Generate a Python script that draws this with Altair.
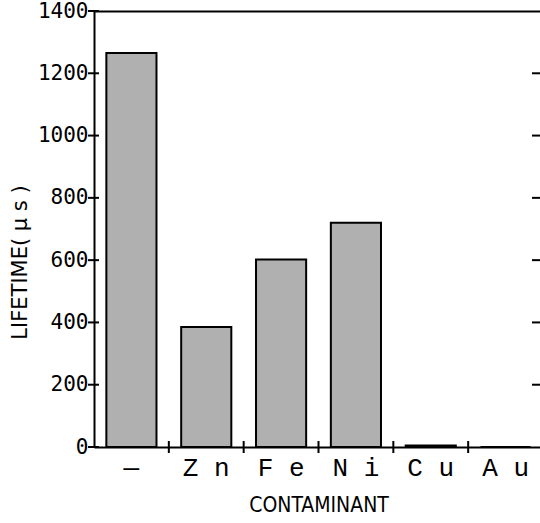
import altair as alt
import pandas as pd

# Carrier lifetime for each contaminant
contaminants = ["—", "Zn", "Fe", "Ni", "Cu", "Au"]
lifetimes_us = [1265, 385, 602, 720, 5, 0]

y_ticks = [0, 200, 400, 600, 800, 1000, 1200, 1400]
right_ticks = [200, 400, 600, 800, 1000, 1200]

df = pd.DataFrame({"contaminant": contaminants, "lifetime": lifetimes_us})
df_y = pd.DataFrame({"tick": y_ticks})
df_r = pd.DataFrame({"tick": right_ticks})
df_x = pd.DataFrame({"contaminant": contaminants[1:]})

W, H = 449, 436
x_scale = alt.Scale(domain=contaminants, paddingInner=0, paddingOuter=0)
y_scale = alt.Scale(domain=[0, 1400], nice=False, zero=True)

# Bars with the main axes: domain lines, labels and titles
bars = alt.Chart(df).mark_bar(
    fill="#b0b0b0", stroke="black", strokeWidth=2,
    width=alt.RelativeBandSize(0.67),
).encode(
    x=alt.X(
        "contaminant:N", sort=contaminants, scale=x_scale,
        axis=alt.Axis(
            orient="bottom", title="CONTAMINANT", ticks=False, domain=True,
            domainColor="black", domainWidth=2, labelAngle=0,
            labelFont="Liberation Mono", labelFontSize=26, labelColor="black",
            labelPadding=7,
            labelExpr="join(split(datum.label, ''), ' ')",
            titleFont="DejaVu Sans Condensed", titleFontSize=21,
            titleFontWeight="normal", titleColor="black", titlePadding=14,
        ),
    ),
    y=alt.Y(
        "lifetime:Q", scale=y_scale,
        axis=alt.Axis(
            orient="left", title="LIFETIME(  μ  s  )", values=y_ticks, format="d",
            ticks=False, grid=False, domain=True, domainColor="black",
            domainWidth=2, labelFont="DejaVu Sans Mono", labelFontSize=21,
            labelColor="black", labelPadding=6, labelOverlap=False,
            titleFont="DejaVu Sans", titleFontSize=21,
            titleFontWeight="normal", titleColor="black",
            titleAngle=270, titleAlign="center", titleBaseline="middle",
            titleX=-74, titleY=251,
        ),
    ),
)

# Top frame line
frame = alt.Chart(df).mark_bar(opacity=0).encode(
    x=alt.X(
        "contaminant:N", sort=contaminants, scale=x_scale,
        axis=alt.Axis(
            orient="top", title=None, labels=False, ticks=False,
            domain=True, domainColor="black", domainWidth=2,
        ),
    ),
    y=alt.Y("lifetime:Q", scale=y_scale, axis=None),
)

# Tick marks crossing the bottom axis at the category boundaries
x_ticks = alt.Chart(df_x).mark_rule(color="black", strokeWidth=2).encode(
    x=alt.X("contaminant:N", sort=contaminants, scale=x_scale,
            bandPosition=0, axis=None),
    y=alt.value(H - 6),
    y2=alt.value(H + 6),
)

# Tick marks crossing the left axis
left_ticks = alt.Chart(df_y).mark_rule(color="black", strokeWidth=2).encode(
    y=alt.Y("tick:Q", scale=y_scale, axis=None),
    x=alt.value(-6),
    x2=alt.value(5),
)

# Short ticks along the right edge
r_ticks = alt.Chart(df_r).mark_rule(color="black", strokeWidth=2).encode(
    y=alt.Y("tick:Q", scale=y_scale, axis=None),
    x=alt.value(W - 11),
    x2=alt.value(W - 3),
)

chart = alt.layer(bars, frame, x_ticks, left_ticks, r_ticks).resolve_axis(
    x="independent", y="independent"
).properties(
    width=W,
    height=H,
    autosize=alt.AutoSizeParams(type="none"),
    padding={"left": 94, "top": 11, "right": -3, "bottom": 76},
    background="white",
).configure_view(stroke=None)

chart.save("out.html", embed_options={"renderer": "svg", "actions": False})
